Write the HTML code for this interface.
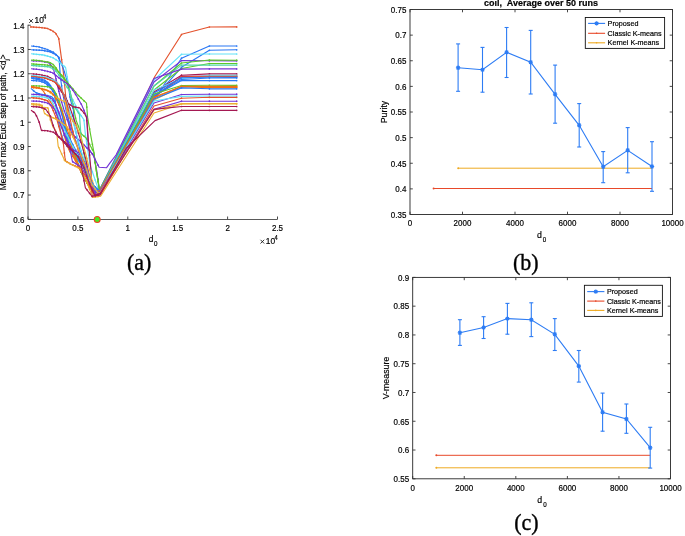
<!DOCTYPE html>
<html><head><meta charset="utf-8"><style>html,body{margin:0;padding:0;background:#fff;width:685px;height:536px;overflow:hidden}svg{display:block;will-change:transform}</style></head><body><svg width="685" height="536" viewBox="0 0 685 536"><rect x="410" y="9.5" width="262.5" height="205.0" fill="none" stroke="#262626" stroke-width="0.9"/><line x1="410" y1="214.5" x2="412.8" y2="214.5" stroke="#333" stroke-width="0.9"/><line x1="672.5" y1="214.5" x2="669.7" y2="214.5" stroke="#333" stroke-width="0.9"/><text transform="translate(406.4 217.8) scale(1 1.08)" font-size="8" text-anchor="end" font-weight="normal" font-family="'Liberation Sans', sans-serif" fill="#000" stroke="#000" stroke-width="0.18" >0.35</text><line x1="410" y1="188.875" x2="412.8" y2="188.875" stroke="#333" stroke-width="0.9"/><line x1="672.5" y1="188.875" x2="669.7" y2="188.875" stroke="#333" stroke-width="0.9"/><text transform="translate(406.4 192.175) scale(1 1.08)" font-size="8" text-anchor="end" font-weight="normal" font-family="'Liberation Sans', sans-serif" fill="#000" stroke="#000" stroke-width="0.18" >0.4</text><line x1="410" y1="163.25" x2="412.8" y2="163.25" stroke="#333" stroke-width="0.9"/><line x1="672.5" y1="163.25" x2="669.7" y2="163.25" stroke="#333" stroke-width="0.9"/><text transform="translate(406.4 166.55) scale(1 1.08)" font-size="8" text-anchor="end" font-weight="normal" font-family="'Liberation Sans', sans-serif" fill="#000" stroke="#000" stroke-width="0.18" >0.45</text><line x1="410" y1="137.625" x2="412.8" y2="137.625" stroke="#333" stroke-width="0.9"/><line x1="672.5" y1="137.625" x2="669.7" y2="137.625" stroke="#333" stroke-width="0.9"/><text transform="translate(406.4 140.925) scale(1 1.08)" font-size="8" text-anchor="end" font-weight="normal" font-family="'Liberation Sans', sans-serif" fill="#000" stroke="#000" stroke-width="0.18" >0.5</text><line x1="410" y1="112.0" x2="412.8" y2="112.0" stroke="#333" stroke-width="0.9"/><line x1="672.5" y1="112.0" x2="669.7" y2="112.0" stroke="#333" stroke-width="0.9"/><text transform="translate(406.4 115.3) scale(1 1.08)" font-size="8" text-anchor="end" font-weight="normal" font-family="'Liberation Sans', sans-serif" fill="#000" stroke="#000" stroke-width="0.18" >0.55</text><line x1="410" y1="86.375" x2="412.8" y2="86.375" stroke="#333" stroke-width="0.9"/><line x1="672.5" y1="86.375" x2="669.7" y2="86.375" stroke="#333" stroke-width="0.9"/><text transform="translate(406.4 89.675) scale(1 1.08)" font-size="8" text-anchor="end" font-weight="normal" font-family="'Liberation Sans', sans-serif" fill="#000" stroke="#000" stroke-width="0.18" >0.6</text><line x1="410" y1="60.75" x2="412.8" y2="60.75" stroke="#333" stroke-width="0.9"/><line x1="672.5" y1="60.75" x2="669.7" y2="60.75" stroke="#333" stroke-width="0.9"/><text transform="translate(406.4 64.05) scale(1 1.08)" font-size="8" text-anchor="end" font-weight="normal" font-family="'Liberation Sans', sans-serif" fill="#000" stroke="#000" stroke-width="0.18" >0.65</text><line x1="410" y1="35.125" x2="412.8" y2="35.125" stroke="#333" stroke-width="0.9"/><line x1="672.5" y1="35.125" x2="669.7" y2="35.125" stroke="#333" stroke-width="0.9"/><text transform="translate(406.4 38.425) scale(1 1.08)" font-size="8" text-anchor="end" font-weight="normal" font-family="'Liberation Sans', sans-serif" fill="#000" stroke="#000" stroke-width="0.18" >0.7</text><line x1="410" y1="9.5" x2="412.8" y2="9.5" stroke="#333" stroke-width="0.9"/><line x1="672.5" y1="9.5" x2="669.7" y2="9.5" stroke="#333" stroke-width="0.9"/><text transform="translate(406.4 12.8) scale(1 1.08)" font-size="8" text-anchor="end" font-weight="normal" font-family="'Liberation Sans', sans-serif" fill="#000" stroke="#000" stroke-width="0.18" >0.75</text><line x1="410.0" y1="214.5" x2="410.0" y2="211.7" stroke="#333" stroke-width="0.9"/><line x1="410.0" y1="9.5" x2="410.0" y2="12.3" stroke="#333" stroke-width="0.9"/><text transform="translate(410.0 226.4) scale(1 1.08)" font-size="8" text-anchor="middle" font-weight="normal" font-family="'Liberation Sans', sans-serif" fill="#000" stroke="#000" stroke-width="0.18" >0</text><line x1="462.5" y1="214.5" x2="462.5" y2="211.7" stroke="#333" stroke-width="0.9"/><line x1="462.5" y1="9.5" x2="462.5" y2="12.3" stroke="#333" stroke-width="0.9"/><text transform="translate(462.5 226.4) scale(1 1.08)" font-size="8" text-anchor="middle" font-weight="normal" font-family="'Liberation Sans', sans-serif" fill="#000" stroke="#000" stroke-width="0.18" >2000</text><line x1="515.0" y1="214.5" x2="515.0" y2="211.7" stroke="#333" stroke-width="0.9"/><line x1="515.0" y1="9.5" x2="515.0" y2="12.3" stroke="#333" stroke-width="0.9"/><text transform="translate(515.0 226.4) scale(1 1.08)" font-size="8" text-anchor="middle" font-weight="normal" font-family="'Liberation Sans', sans-serif" fill="#000" stroke="#000" stroke-width="0.18" >4000</text><line x1="567.5" y1="214.5" x2="567.5" y2="211.7" stroke="#333" stroke-width="0.9"/><line x1="567.5" y1="9.5" x2="567.5" y2="12.3" stroke="#333" stroke-width="0.9"/><text transform="translate(567.5 226.4) scale(1 1.08)" font-size="8" text-anchor="middle" font-weight="normal" font-family="'Liberation Sans', sans-serif" fill="#000" stroke="#000" stroke-width="0.18" >6000</text><line x1="620.0" y1="214.5" x2="620.0" y2="211.7" stroke="#333" stroke-width="0.9"/><line x1="620.0" y1="9.5" x2="620.0" y2="12.3" stroke="#333" stroke-width="0.9"/><text transform="translate(620.0 226.4) scale(1 1.08)" font-size="8" text-anchor="middle" font-weight="normal" font-family="'Liberation Sans', sans-serif" fill="#000" stroke="#000" stroke-width="0.18" >8000</text><line x1="672.5" y1="214.5" x2="672.5" y2="211.7" stroke="#333" stroke-width="0.9"/><line x1="672.5" y1="9.5" x2="672.5" y2="12.3" stroke="#333" stroke-width="0.9"/><text transform="translate(672.5 226.4) scale(1 1.08)" font-size="8" text-anchor="middle" font-weight="normal" font-family="'Liberation Sans', sans-serif" fill="#000" stroke="#000" stroke-width="0.18" >10000</text><line x1="433.6" y1="188.5" x2="652" y2="188.5" stroke="#e8492a" stroke-width="1"/><line x1="458.2" y1="168.2" x2="652" y2="168.2" stroke="#eeaa22" stroke-width="1"/><circle cx="433.6" cy="188.5" r="1" fill="#e8492a"/><circle cx="458.2" cy="168.2" r="1" fill="#eeaa22"/><line x1="458.1" y1="43.9" x2="458.1" y2="91.3" stroke="#2d7cf4" stroke-width="1.1"/><line x1="456.1" y1="43.9" x2="460.1" y2="43.9" stroke="#2d7cf4" stroke-width="1.1"/><line x1="456.1" y1="91.3" x2="460.1" y2="91.3" stroke="#2d7cf4" stroke-width="1.1"/><line x1="482.5" y1="47.4" x2="482.5" y2="92.2" stroke="#2d7cf4" stroke-width="1.1"/><line x1="480.5" y1="47.4" x2="484.5" y2="47.4" stroke="#2d7cf4" stroke-width="1.1"/><line x1="480.5" y1="92.2" x2="484.5" y2="92.2" stroke="#2d7cf4" stroke-width="1.1"/><line x1="506.6" y1="27.5" x2="506.6" y2="77.5" stroke="#2d7cf4" stroke-width="1.1"/><line x1="504.6" y1="27.5" x2="508.6" y2="27.5" stroke="#2d7cf4" stroke-width="1.1"/><line x1="504.6" y1="77.5" x2="508.6" y2="77.5" stroke="#2d7cf4" stroke-width="1.1"/><line x1="530.7" y1="30.4" x2="530.7" y2="94" stroke="#2d7cf4" stroke-width="1.1"/><line x1="528.7" y1="30.4" x2="532.7" y2="30.4" stroke="#2d7cf4" stroke-width="1.1"/><line x1="528.7" y1="94" x2="532.7" y2="94" stroke="#2d7cf4" stroke-width="1.1"/><line x1="555.1" y1="65.1" x2="555.1" y2="123.2" stroke="#2d7cf4" stroke-width="1.1"/><line x1="553.1" y1="65.1" x2="557.1" y2="65.1" stroke="#2d7cf4" stroke-width="1.1"/><line x1="553.1" y1="123.2" x2="557.1" y2="123.2" stroke="#2d7cf4" stroke-width="1.1"/><line x1="579.2" y1="103.6" x2="579.2" y2="147" stroke="#2d7cf4" stroke-width="1.1"/><line x1="577.2" y1="103.6" x2="581.2" y2="103.6" stroke="#2d7cf4" stroke-width="1.1"/><line x1="577.2" y1="147" x2="581.2" y2="147" stroke="#2d7cf4" stroke-width="1.1"/><line x1="603.2" y1="151.6" x2="603.2" y2="182.7" stroke="#2d7cf4" stroke-width="1.1"/><line x1="601.2" y1="151.6" x2="605.2" y2="151.6" stroke="#2d7cf4" stroke-width="1.1"/><line x1="601.2" y1="182.7" x2="605.2" y2="182.7" stroke="#2d7cf4" stroke-width="1.1"/><line x1="627.7" y1="127.6" x2="627.7" y2="172.8" stroke="#2d7cf4" stroke-width="1.1"/><line x1="625.7" y1="127.6" x2="629.7" y2="127.6" stroke="#2d7cf4" stroke-width="1.1"/><line x1="625.7" y1="172.8" x2="629.7" y2="172.8" stroke="#2d7cf4" stroke-width="1.1"/><line x1="652" y1="141.7" x2="652" y2="191.3" stroke="#2d7cf4" stroke-width="1.1"/><line x1="650" y1="141.7" x2="654" y2="141.7" stroke="#2d7cf4" stroke-width="1.1"/><line x1="650" y1="191.3" x2="654" y2="191.3" stroke="#2d7cf4" stroke-width="1.1"/><polyline fill="none" stroke="#2d7cf4" stroke-width="1.1" points="458.1,67.8 482.5,69.8 506.6,52.3 530.7,62.2 555.1,94.3 579.2,125.3 603.2,166.8 627.7,150.3 652,166.5"/><path d="M455.90000000000003,67.8H460.3M458.1,65.6V70.0M456.516,66.216L459.684,69.384M456.516,69.384L459.684,66.216" stroke="#2d7cf4" stroke-width="1.1" fill="none"/><path d="M480.3,69.8H484.7M482.5,67.6V72.0M480.916,68.216L484.084,71.384M480.916,71.384L484.084,68.216" stroke="#2d7cf4" stroke-width="1.1" fill="none"/><path d="M504.40000000000003,52.3H508.8M506.6,50.099999999999994V54.5M505.016,50.715999999999994L508.184,53.884M505.016,53.884L508.184,50.715999999999994" stroke="#2d7cf4" stroke-width="1.1" fill="none"/><path d="M528.5,62.2H532.9000000000001M530.7,60.0V64.4M529.1160000000001,60.616L532.284,63.784000000000006M529.1160000000001,63.784000000000006L532.284,60.616" stroke="#2d7cf4" stroke-width="1.1" fill="none"/><path d="M552.9,94.3H557.3000000000001M555.1,92.1V96.5M553.5160000000001,92.716L556.684,95.884M553.5160000000001,95.884L556.684,92.716" stroke="#2d7cf4" stroke-width="1.1" fill="none"/><path d="M577.0,125.3H581.4000000000001M579.2,123.1V127.5M577.6160000000001,123.716L580.784,126.884M577.6160000000001,126.884L580.784,123.716" stroke="#2d7cf4" stroke-width="1.1" fill="none"/><path d="M601.0,166.8H605.4000000000001M603.2,164.60000000000002V169.0M601.6160000000001,165.216L604.784,168.38400000000001M601.6160000000001,168.38400000000001L604.784,165.216" stroke="#2d7cf4" stroke-width="1.1" fill="none"/><path d="M625.5,150.3H629.9000000000001M627.7,148.10000000000002V152.5M626.1160000000001,148.716L629.284,151.88400000000001M626.1160000000001,151.88400000000001L629.284,148.716" stroke="#2d7cf4" stroke-width="1.1" fill="none"/><path d="M649.8,166.5H654.2M652,164.3V168.7M650.416,164.916L653.584,168.084M650.416,168.084L653.584,164.916" stroke="#2d7cf4" stroke-width="1.1" fill="none"/><rect x="585.3" y="17.5" width="79.30000000000007" height="30.9" fill="#fff" stroke="#111" stroke-width="0.9"/><line x1="588.0999999999999" y1="23.4" x2="605.1" y2="23.4" stroke="#2d7cf4" stroke-width="1.1"/><path d="M594.3999999999999,23.4H598.8M596.5999999999999,21.2V25.599999999999998M595.016,21.816L598.1839999999999,24.983999999999998M595.016,24.983999999999998L598.1839999999999,21.816" stroke="#2d7cf4" stroke-width="1.1" fill="none"/><text transform="translate(607.6 26.0) scale(1 1.08)" font-size="7.2" text-anchor="start" font-weight="normal" font-family="'Liberation Sans', sans-serif" fill="#000" stroke="#000" stroke-width="0.18" >Proposed</text><line x1="588.0999999999999" y1="33.3" x2="605.1" y2="33.3" stroke="#e8492a" stroke-width="1.1"/><circle cx="596.5999999999999" cy="33.3" r="0.8" fill="#e8492a"/><text transform="translate(607.6 35.9) scale(1 1.08)" font-size="7.2" text-anchor="start" font-weight="normal" font-family="'Liberation Sans', sans-serif" fill="#000" stroke="#000" stroke-width="0.18" >Classic K-means</text><line x1="588.0999999999999" y1="42.8" x2="605.1" y2="42.8" stroke="#eeaa22" stroke-width="1.1"/><circle cx="596.5999999999999" cy="42.8" r="0.8" fill="#eeaa22"/><text transform="translate(607.6 45.4) scale(1 1.08)" font-size="7.2" text-anchor="start" font-weight="normal" font-family="'Liberation Sans', sans-serif" fill="#000" stroke="#000" stroke-width="0.18" >Kernel K-means</text><text transform="translate(387 112) rotate(-90)" font-size="8.8" text-anchor="middle" font-weight="normal" font-family="'Liberation Sans', sans-serif" fill="#000" stroke="#000" stroke-width="0.18" >Purity</text><text transform="translate(539.4 238.1) scale(1 1.08)" font-size="8.8" text-anchor="middle" font-weight="normal" font-family="'Liberation Sans', sans-serif" fill="#000" stroke="#000" stroke-width="0.18" >d</text><text transform="translate(544.5 242.1) scale(1 1.08)" font-size="6.2" text-anchor="middle" font-weight="normal" font-family="'Liberation Sans', sans-serif" fill="#000" stroke="#000" stroke-width="0.18" >0</text><text transform="translate(525.8 270.1) scale(1 1.08)" font-size="22" text-anchor="middle" font-weight="normal" font-family="'Liberation Serif', serif" fill="#000" stroke="#000" stroke-width="0.35" >(b)</text><text transform="translate(541 6.0) scale(1 1.08)" font-size="9" text-anchor="middle" font-weight="bold" font-family="'Liberation Sans', sans-serif" fill="#000" stroke="#000" stroke-width="0.18" >coil,&#160; Average over 50 runs</text><rect x="412.7" y="277.4" width="257.8" height="201.40000000000003" fill="none" stroke="#262626" stroke-width="0.9"/><line x1="412.7" y1="478.8" x2="415.5" y2="478.8" stroke="#333" stroke-width="0.9"/><line x1="670.5" y1="478.8" x2="667.7" y2="478.8" stroke="#333" stroke-width="0.9"/><text transform="translate(409.09999999999997 482.1) scale(1 1.08)" font-size="8" text-anchor="end" font-weight="normal" font-family="'Liberation Sans', sans-serif" fill="#000" stroke="#000" stroke-width="0.18" >0.55</text><line x1="412.7" y1="450.0285714285714" x2="415.5" y2="450.0285714285714" stroke="#333" stroke-width="0.9"/><line x1="670.5" y1="450.0285714285714" x2="667.7" y2="450.0285714285714" stroke="#333" stroke-width="0.9"/><text transform="translate(409.09999999999997 453.3285714285714) scale(1 1.08)" font-size="8" text-anchor="end" font-weight="normal" font-family="'Liberation Sans', sans-serif" fill="#000" stroke="#000" stroke-width="0.18" >0.6</text><line x1="412.7" y1="421.25714285714287" x2="415.5" y2="421.25714285714287" stroke="#333" stroke-width="0.9"/><line x1="670.5" y1="421.25714285714287" x2="667.7" y2="421.25714285714287" stroke="#333" stroke-width="0.9"/><text transform="translate(409.09999999999997 424.5571428571429) scale(1 1.08)" font-size="8" text-anchor="end" font-weight="normal" font-family="'Liberation Sans', sans-serif" fill="#000" stroke="#000" stroke-width="0.18" >0.65</text><line x1="412.7" y1="392.48571428571427" x2="415.5" y2="392.48571428571427" stroke="#333" stroke-width="0.9"/><line x1="670.5" y1="392.48571428571427" x2="667.7" y2="392.48571428571427" stroke="#333" stroke-width="0.9"/><text transform="translate(409.09999999999997 395.7857142857143) scale(1 1.08)" font-size="8" text-anchor="end" font-weight="normal" font-family="'Liberation Sans', sans-serif" fill="#000" stroke="#000" stroke-width="0.18" >0.7</text><line x1="412.7" y1="363.7142857142857" x2="415.5" y2="363.7142857142857" stroke="#333" stroke-width="0.9"/><line x1="670.5" y1="363.7142857142857" x2="667.7" y2="363.7142857142857" stroke="#333" stroke-width="0.9"/><text transform="translate(409.09999999999997 367.01428571428573) scale(1 1.08)" font-size="8" text-anchor="end" font-weight="normal" font-family="'Liberation Sans', sans-serif" fill="#000" stroke="#000" stroke-width="0.18" >0.75</text><line x1="412.7" y1="334.9428571428571" x2="415.5" y2="334.9428571428571" stroke="#333" stroke-width="0.9"/><line x1="670.5" y1="334.9428571428571" x2="667.7" y2="334.9428571428571" stroke="#333" stroke-width="0.9"/><text transform="translate(409.09999999999997 338.24285714285713) scale(1 1.08)" font-size="8" text-anchor="end" font-weight="normal" font-family="'Liberation Sans', sans-serif" fill="#000" stroke="#000" stroke-width="0.18" >0.8</text><line x1="412.7" y1="306.1714285714286" x2="415.5" y2="306.1714285714286" stroke="#333" stroke-width="0.9"/><line x1="670.5" y1="306.1714285714286" x2="667.7" y2="306.1714285714286" stroke="#333" stroke-width="0.9"/><text transform="translate(409.09999999999997 309.4714285714286) scale(1 1.08)" font-size="8" text-anchor="end" font-weight="normal" font-family="'Liberation Sans', sans-serif" fill="#000" stroke="#000" stroke-width="0.18" >0.85</text><line x1="412.7" y1="277.4" x2="415.5" y2="277.4" stroke="#333" stroke-width="0.9"/><line x1="670.5" y1="277.4" x2="667.7" y2="277.4" stroke="#333" stroke-width="0.9"/><text transform="translate(409.09999999999997 280.7) scale(1 1.08)" font-size="8" text-anchor="end" font-weight="normal" font-family="'Liberation Sans', sans-serif" fill="#000" stroke="#000" stroke-width="0.18" >0.9</text><line x1="412.7" y1="478.8" x2="412.7" y2="476.0" stroke="#333" stroke-width="0.9"/><line x1="412.7" y1="277.4" x2="412.7" y2="280.2" stroke="#333" stroke-width="0.9"/><text transform="translate(412.7 490.7) scale(1 1.08)" font-size="8" text-anchor="middle" font-weight="normal" font-family="'Liberation Sans', sans-serif" fill="#000" stroke="#000" stroke-width="0.18" >0</text><line x1="464.26" y1="478.8" x2="464.26" y2="476.0" stroke="#333" stroke-width="0.9"/><line x1="464.26" y1="277.4" x2="464.26" y2="280.2" stroke="#333" stroke-width="0.9"/><text transform="translate(464.26 490.7) scale(1 1.08)" font-size="8" text-anchor="middle" font-weight="normal" font-family="'Liberation Sans', sans-serif" fill="#000" stroke="#000" stroke-width="0.18" >2000</text><line x1="515.8199999999999" y1="478.8" x2="515.8199999999999" y2="476.0" stroke="#333" stroke-width="0.9"/><line x1="515.8199999999999" y1="277.4" x2="515.8199999999999" y2="280.2" stroke="#333" stroke-width="0.9"/><text transform="translate(515.8199999999999 490.7) scale(1 1.08)" font-size="8" text-anchor="middle" font-weight="normal" font-family="'Liberation Sans', sans-serif" fill="#000" stroke="#000" stroke-width="0.18" >4000</text><line x1="567.38" y1="478.8" x2="567.38" y2="476.0" stroke="#333" stroke-width="0.9"/><line x1="567.38" y1="277.4" x2="567.38" y2="280.2" stroke="#333" stroke-width="0.9"/><text transform="translate(567.38 490.7) scale(1 1.08)" font-size="8" text-anchor="middle" font-weight="normal" font-family="'Liberation Sans', sans-serif" fill="#000" stroke="#000" stroke-width="0.18" >6000</text><line x1="618.94" y1="478.8" x2="618.94" y2="476.0" stroke="#333" stroke-width="0.9"/><line x1="618.94" y1="277.4" x2="618.94" y2="280.2" stroke="#333" stroke-width="0.9"/><text transform="translate(618.94 490.7) scale(1 1.08)" font-size="8" text-anchor="middle" font-weight="normal" font-family="'Liberation Sans', sans-serif" fill="#000" stroke="#000" stroke-width="0.18" >8000</text><line x1="670.5" y1="478.8" x2="670.5" y2="476.0" stroke="#333" stroke-width="0.9"/><line x1="670.5" y1="277.4" x2="670.5" y2="280.2" stroke="#333" stroke-width="0.9"/><text transform="translate(670.5 490.7) scale(1 1.08)" font-size="8" text-anchor="middle" font-weight="normal" font-family="'Liberation Sans', sans-serif" fill="#000" stroke="#000" stroke-width="0.18" >10000</text><line x1="436.3" y1="455.3" x2="650.2" y2="455.3" stroke="#e8492a" stroke-width="1"/><line x1="436.3" y1="467.8" x2="650.2" y2="467.8" stroke="#eeaa22" stroke-width="1"/><circle cx="436.3" cy="455.3" r="1" fill="#e8492a"/><circle cx="436.3" cy="467.8" r="1" fill="#eeaa22"/><line x1="459.9" y1="319.7" x2="459.9" y2="345.4" stroke="#2d7cf4" stroke-width="1.1"/><line x1="457.9" y1="319.7" x2="461.9" y2="319.7" stroke="#2d7cf4" stroke-width="1.1"/><line x1="457.9" y1="345.4" x2="461.9" y2="345.4" stroke="#2d7cf4" stroke-width="1.1"/><line x1="483.6" y1="316.7" x2="483.6" y2="338.5" stroke="#2d7cf4" stroke-width="1.1"/><line x1="481.6" y1="316.7" x2="485.6" y2="316.7" stroke="#2d7cf4" stroke-width="1.1"/><line x1="481.6" y1="338.5" x2="485.6" y2="338.5" stroke="#2d7cf4" stroke-width="1.1"/><line x1="507.4" y1="303.4" x2="507.4" y2="334.2" stroke="#2d7cf4" stroke-width="1.1"/><line x1="505.4" y1="303.4" x2="509.4" y2="303.4" stroke="#2d7cf4" stroke-width="1.1"/><line x1="505.4" y1="334.2" x2="509.4" y2="334.2" stroke="#2d7cf4" stroke-width="1.1"/><line x1="531.3" y1="302.8" x2="531.3" y2="336.6" stroke="#2d7cf4" stroke-width="1.1"/><line x1="529.3" y1="302.8" x2="533.3" y2="302.8" stroke="#2d7cf4" stroke-width="1.1"/><line x1="529.3" y1="336.6" x2="533.3" y2="336.6" stroke="#2d7cf4" stroke-width="1.1"/><line x1="554.8" y1="318.6" x2="554.8" y2="350.5" stroke="#2d7cf4" stroke-width="1.1"/><line x1="552.8" y1="318.6" x2="556.8" y2="318.6" stroke="#2d7cf4" stroke-width="1.1"/><line x1="552.8" y1="350.5" x2="556.8" y2="350.5" stroke="#2d7cf4" stroke-width="1.1"/><line x1="578.8" y1="350.5" x2="578.8" y2="382.1" stroke="#2d7cf4" stroke-width="1.1"/><line x1="576.8" y1="350.5" x2="580.8" y2="350.5" stroke="#2d7cf4" stroke-width="1.1"/><line x1="576.8" y1="382.1" x2="580.8" y2="382.1" stroke="#2d7cf4" stroke-width="1.1"/><line x1="602.6" y1="393.1" x2="602.6" y2="431.2" stroke="#2d7cf4" stroke-width="1.1"/><line x1="600.6" y1="393.1" x2="604.6" y2="393.1" stroke="#2d7cf4" stroke-width="1.1"/><line x1="600.6" y1="431.2" x2="604.6" y2="431.2" stroke="#2d7cf4" stroke-width="1.1"/><line x1="626.4" y1="404" x2="626.4" y2="433.3" stroke="#2d7cf4" stroke-width="1.1"/><line x1="624.4" y1="404" x2="628.4" y2="404" stroke="#2d7cf4" stroke-width="1.1"/><line x1="624.4" y1="433.3" x2="628.4" y2="433.3" stroke="#2d7cf4" stroke-width="1.1"/><line x1="650.2" y1="427.3" x2="650.2" y2="468.1" stroke="#2d7cf4" stroke-width="1.1"/><line x1="648.2" y1="427.3" x2="652.2" y2="427.3" stroke="#2d7cf4" stroke-width="1.1"/><line x1="648.2" y1="468.1" x2="652.2" y2="468.1" stroke="#2d7cf4" stroke-width="1.1"/><polyline fill="none" stroke="#2d7cf4" stroke-width="1.1" points="459.9,332.8 483.6,327.5 507.4,318.6 531.3,319.7 554.8,334.3 578.8,366.1 602.6,412.2 626.4,419 650.2,447.7"/><path d="M457.7,332.8H462.09999999999997M459.9,330.6V335.0M458.316,331.216L461.484,334.384M458.316,334.384L461.484,331.216" stroke="#2d7cf4" stroke-width="1.1" fill="none"/><path d="M481.40000000000003,327.5H485.8M483.6,325.3V329.7M482.016,325.916L485.184,329.084M482.016,329.084L485.184,325.916" stroke="#2d7cf4" stroke-width="1.1" fill="none"/><path d="M505.2,318.6H509.59999999999997M507.4,316.40000000000003V320.8M505.816,317.016L508.984,320.184M505.816,320.184L508.984,317.016" stroke="#2d7cf4" stroke-width="1.1" fill="none"/><path d="M529.0999999999999,319.7H533.5M531.3,317.5V321.9M529.716,318.116L532.8839999999999,321.284M529.716,321.284L532.8839999999999,318.116" stroke="#2d7cf4" stroke-width="1.1" fill="none"/><path d="M552.5999999999999,334.3H557.0M554.8,332.1V336.5M553.216,332.716L556.3839999999999,335.884M553.216,335.884L556.3839999999999,332.716" stroke="#2d7cf4" stroke-width="1.1" fill="none"/><path d="M576.5999999999999,366.1H581.0M578.8,363.90000000000003V368.3M577.216,364.516L580.3839999999999,367.684M577.216,367.684L580.3839999999999,364.516" stroke="#2d7cf4" stroke-width="1.1" fill="none"/><path d="M600.4,412.2H604.8000000000001M602.6,410.0V414.4M601.0160000000001,410.616L604.184,413.784M601.0160000000001,413.784L604.184,410.616" stroke="#2d7cf4" stroke-width="1.1" fill="none"/><path d="M624.1999999999999,419H628.6M626.4,416.8V421.2M624.816,417.416L627.9839999999999,420.584M624.816,420.584L627.9839999999999,417.416" stroke="#2d7cf4" stroke-width="1.1" fill="none"/><path d="M648.0,447.7H652.4000000000001M650.2,445.5V449.9M648.6160000000001,446.116L651.784,449.284M648.6160000000001,449.284L651.784,446.116" stroke="#2d7cf4" stroke-width="1.1" fill="none"/><rect x="584.4" y="285.3" width="78.0" height="31.099999999999966" fill="#fff" stroke="#111" stroke-width="0.9"/><line x1="587.1999999999999" y1="291.6" x2="604.4" y2="291.6" stroke="#2d7cf4" stroke-width="1.1"/><path d="M593.5999999999999,291.6H598.0M595.8,289.40000000000003V293.8M594.216,290.016L597.3839999999999,293.184M594.216,293.184L597.3839999999999,290.016" stroke="#2d7cf4" stroke-width="1.1" fill="none"/><text transform="translate(606.9 294.20000000000005) scale(1 1.08)" font-size="7.2" text-anchor="start" font-weight="normal" font-family="'Liberation Sans', sans-serif" fill="#000" stroke="#000" stroke-width="0.18" >Proposed</text><line x1="587.1999999999999" y1="301.1" x2="604.4" y2="301.1" stroke="#e8492a" stroke-width="1.1"/><circle cx="595.8" cy="301.1" r="0.8" fill="#e8492a"/><text transform="translate(606.9 303.70000000000005) scale(1 1.08)" font-size="7.2" text-anchor="start" font-weight="normal" font-family="'Liberation Sans', sans-serif" fill="#000" stroke="#000" stroke-width="0.18" >Classic K-means</text><line x1="587.1999999999999" y1="310.4" x2="604.4" y2="310.4" stroke="#eeaa22" stroke-width="1.1"/><circle cx="595.8" cy="310.4" r="0.8" fill="#eeaa22"/><text transform="translate(606.9 313.0) scale(1 1.08)" font-size="7.2" text-anchor="start" font-weight="normal" font-family="'Liberation Sans', sans-serif" fill="#000" stroke="#000" stroke-width="0.18" >Kernel K-means</text><text transform="translate(389 378) rotate(-90)" font-size="8.8" text-anchor="middle" font-weight="normal" font-family="'Liberation Sans', sans-serif" fill="#000" stroke="#000" stroke-width="0.18" >V-measure</text><text transform="translate(539.8 502.9) scale(1 1.08)" font-size="8.8" text-anchor="middle" font-weight="normal" font-family="'Liberation Sans', sans-serif" fill="#000" stroke="#000" stroke-width="0.18" >d</text><text transform="translate(544.9 506.9) scale(1 1.08)" font-size="6.2" text-anchor="middle" font-weight="normal" font-family="'Liberation Sans', sans-serif" fill="#000" stroke="#000" stroke-width="0.18" >0</text><text transform="translate(526.4 529.6) scale(1 1.08)" font-size="22" text-anchor="middle" font-weight="normal" font-family="'Liberation Serif', serif" fill="#000" stroke="#000" stroke-width="0.35" >(c)</text><line x1="28" y1="24.720000000000027" x2="28" y2="219.5" stroke="#5a5a5a" stroke-width="1"/><line x1="28" y1="219.5" x2="277.5" y2="219.5" stroke="#5a5a5a" stroke-width="1"/><line x1="28.0" y1="219.3" x2="28.0" y2="216.5" stroke="#333" stroke-width="0.9"/><text transform="translate(28.0 231.0) scale(1 1.08)" font-size="8" text-anchor="middle" font-weight="normal" font-family="'Liberation Sans', sans-serif" fill="#000" stroke="#000" stroke-width="0.18" >0</text><line x1="77.9" y1="219.3" x2="77.9" y2="216.5" stroke="#333" stroke-width="0.9"/><text transform="translate(77.9 231.0) scale(1 1.08)" font-size="8" text-anchor="middle" font-weight="normal" font-family="'Liberation Sans', sans-serif" fill="#000" stroke="#000" stroke-width="0.18" >0.5</text><line x1="127.8" y1="219.3" x2="127.8" y2="216.5" stroke="#333" stroke-width="0.9"/><text transform="translate(127.8 231.0) scale(1 1.08)" font-size="8" text-anchor="middle" font-weight="normal" font-family="'Liberation Sans', sans-serif" fill="#000" stroke="#000" stroke-width="0.18" >1</text><line x1="177.7" y1="219.3" x2="177.7" y2="216.5" stroke="#333" stroke-width="0.9"/><text transform="translate(177.7 231.0) scale(1 1.08)" font-size="8" text-anchor="middle" font-weight="normal" font-family="'Liberation Sans', sans-serif" fill="#000" stroke="#000" stroke-width="0.18" >1.5</text><line x1="227.6" y1="219.3" x2="227.6" y2="216.5" stroke="#333" stroke-width="0.9"/><text transform="translate(227.6 231.0) scale(1 1.08)" font-size="8" text-anchor="middle" font-weight="normal" font-family="'Liberation Sans', sans-serif" fill="#000" stroke="#000" stroke-width="0.18" >2</text><line x1="277.5" y1="219.3" x2="277.5" y2="216.5" stroke="#333" stroke-width="0.9"/><text transform="translate(277.5 231.0) scale(1 1.08)" font-size="8" text-anchor="middle" font-weight="normal" font-family="'Liberation Sans', sans-serif" fill="#000" stroke="#000" stroke-width="0.18" >2.5</text><line x1="28" y1="219.3" x2="30.8" y2="219.3" stroke="#333" stroke-width="0.9"/><text transform="translate(24.4 222.60000000000002) scale(1 1.08)" font-size="8" text-anchor="end" font-weight="normal" font-family="'Liberation Sans', sans-serif" fill="#000" stroke="#000" stroke-width="0.18" >0.6</text><line x1="28" y1="195.04000000000002" x2="30.8" y2="195.04000000000002" stroke="#333" stroke-width="0.9"/><text transform="translate(24.4 198.34000000000003) scale(1 1.08)" font-size="8" text-anchor="end" font-weight="normal" font-family="'Liberation Sans', sans-serif" fill="#000" stroke="#000" stroke-width="0.18" >0.7</text><line x1="28" y1="170.78" x2="30.8" y2="170.78" stroke="#333" stroke-width="0.9"/><text transform="translate(24.4 174.08) scale(1 1.08)" font-size="8" text-anchor="end" font-weight="normal" font-family="'Liberation Sans', sans-serif" fill="#000" stroke="#000" stroke-width="0.18" >0.8</text><line x1="28" y1="146.51999999999998" x2="30.8" y2="146.51999999999998" stroke="#333" stroke-width="0.9"/><text transform="translate(24.4 149.82) scale(1 1.08)" font-size="8" text-anchor="end" font-weight="normal" font-family="'Liberation Sans', sans-serif" fill="#000" stroke="#000" stroke-width="0.18" >0.9</text><line x1="28" y1="122.26" x2="30.8" y2="122.26" stroke="#333" stroke-width="0.9"/><text transform="translate(24.4 125.56) scale(1 1.08)" font-size="8" text-anchor="end" font-weight="normal" font-family="'Liberation Sans', sans-serif" fill="#000" stroke="#000" stroke-width="0.18" >1</text><line x1="28" y1="97.99999999999999" x2="30.8" y2="97.99999999999999" stroke="#333" stroke-width="0.9"/><text transform="translate(24.4 101.29999999999998) scale(1 1.08)" font-size="8" text-anchor="end" font-weight="normal" font-family="'Liberation Sans', sans-serif" fill="#000" stroke="#000" stroke-width="0.18" >1.1</text><line x1="28" y1="73.73999999999995" x2="30.8" y2="73.73999999999995" stroke="#333" stroke-width="0.9"/><text transform="translate(24.4 77.03999999999995) scale(1 1.08)" font-size="8" text-anchor="end" font-weight="normal" font-family="'Liberation Sans', sans-serif" fill="#000" stroke="#000" stroke-width="0.18" >1.2</text><line x1="28" y1="49.47999999999999" x2="30.8" y2="49.47999999999999" stroke="#333" stroke-width="0.9"/><text transform="translate(24.4 52.77999999999999) scale(1 1.08)" font-size="8" text-anchor="end" font-weight="normal" font-family="'Liberation Sans', sans-serif" fill="#000" stroke="#000" stroke-width="0.18" >1.3</text><line x1="28" y1="25.220000000000027" x2="30.8" y2="25.220000000000027" stroke="#333" stroke-width="0.9"/><text transform="translate(24.4 28.520000000000028) scale(1 1.08)" font-size="8" text-anchor="end" font-weight="normal" font-family="'Liberation Sans', sans-serif" fill="#000" stroke="#000" stroke-width="0.18" >1.4</text><path d="M29.2,19.1L32.9,22.8M29.2,22.8L32.9,19.1" stroke="#111" stroke-width="0.85" fill="none"/><text transform="translate(34.5 23.0) scale(1 1.14)" font-size="8.4" text-anchor="start" font-weight="normal" font-family="'Liberation Sans', sans-serif" fill="#000" stroke="#000" stroke-width="0.18" >10</text><text transform="translate(43.099999999999994 18.9) scale(1 1.12)" font-size="5.8" text-anchor="start" font-weight="normal" font-family="'Liberation Sans', sans-serif" fill="#000" stroke="#000" stroke-width="0.18" >4</text><path d="M260.5,239.79999999999998L264.2,243.5M260.5,243.5L264.2,239.79999999999998" stroke="#111" stroke-width="0.85" fill="none"/><text transform="translate(265.8 243.7) scale(1 1.14)" font-size="8.4" text-anchor="start" font-weight="normal" font-family="'Liberation Sans', sans-serif" fill="#000" stroke="#000" stroke-width="0.18" >10</text><text transform="translate(274.4 239.6) scale(1 1.12)" font-size="5.8" text-anchor="start" font-weight="normal" font-family="'Liberation Sans', sans-serif" fill="#000" stroke="#000" stroke-width="0.18" >4</text><text transform="translate(151.1 241.7) scale(1 1.08)" font-size="8.4" text-anchor="middle" font-weight="normal" font-family="'Liberation Sans', sans-serif" fill="#000" stroke="#000" stroke-width="0.18" >d</text><text transform="translate(155.8 246.2) scale(1 1.08)" font-size="6.2" text-anchor="middle" font-weight="normal" font-family="'Liberation Sans', sans-serif" fill="#000" stroke="#000" stroke-width="0.18" >0</text><text transform="translate(6.3 190.2) rotate(-90)" font-size="8.4" text-anchor="start" font-weight="normal" font-family="'Liberation Sans', sans-serif" fill="#000" stroke="#000" stroke-width="0.18" >Mean of max Eucl. step of path, &lt;d<tspan font-size="6" dy="2.4">j</tspan><tspan dy="-2.4">&gt;</tspan></text><text transform="translate(139.15 270.1) scale(1 1.08)" font-size="22" text-anchor="middle" font-weight="normal" font-family="'Liberation Serif', serif" fill="#000" stroke="#000" stroke-width="0.35" >(a)</text><polyline fill="none" stroke="#e4532e" stroke-width="1.15" stroke-linejoin="round" points="30.8,26.9 40.0,27.5 47.4,28.4 52.0,30.6 55.5,33.0 58.7,38.2 63.7,74.9 66.0,99.6 68.5,120.0 70.5,140.0 73.0,155.0 80.0,170.0 88.0,185.0 94.0,194.0 99.6,192.8 154.7,76.8 181.7,34.3 209.3,27.0 236.7,26.9"/><g fill="#e4532e"><circle cx="30.8" cy="26.9" r="0.85"/><circle cx="33.6" cy="27.1" r="0.85"/><circle cx="36.4" cy="27.3" r="0.85"/><circle cx="39.2" cy="27.4" r="0.85"/><circle cx="42.0" cy="27.7" r="0.85"/><circle cx="44.8" cy="28.1" r="0.85"/><circle cx="47.6" cy="28.5" r="0.85"/><circle cx="50.4" cy="29.8" r="0.85"/><circle cx="53.2" cy="31.4" r="0.85"/><circle cx="56.0" cy="33.8" r="0.85"/><circle cx="58.8" cy="38.9" r="0.85"/><circle cx="61.6" cy="59.5" r="0.85"/><circle cx="64.4" cy="82.4" r="0.85"/><circle cx="67.2" cy="109.4" r="0.85"/><circle cx="70.0" cy="135.0" r="0.85"/><circle cx="72.8" cy="153.8" r="0.85"/><circle cx="75.6" cy="160.6" r="0.85"/><circle cx="78.4" cy="166.6" r="0.85"/><circle cx="81.2" cy="172.2" r="0.85"/><circle cx="84.0" cy="177.5" r="0.85"/><circle cx="86.8" cy="182.7" r="0.85"/><circle cx="89.6" cy="187.4" r="0.85"/><circle cx="92.4" cy="191.6" r="0.85"/><circle cx="95.2" cy="193.7" r="0.85"/><circle cx="98.0" cy="193.1" r="0.85"/><circle cx="181.5" cy="34.6" r="0.85"/><circle cx="209.4" cy="27.0" r="0.85"/><circle cx="236.7" cy="26.9" r="0.85"/></g><polyline fill="none" stroke="#2a78f4" stroke-width="1.15" stroke-linejoin="round" points="31.0,46.0 38.4,46.7 46.7,49.3 53.4,52.3 57.9,56.4 60.1,60.9 63.0,67.5 66.0,77.2 68.2,84.6 70.4,99.6 73.4,109.9 74.2,124.9 80.0,150.0 88.0,175.0 97.0,193.0 100.1,191.8 154.0,100.0 181.5,58.2 209.4,46.0 236.7,46.0"/><g fill="#2a78f4"><circle cx="33.6" cy="46.2" r="0.85"/><circle cx="36.4" cy="46.5" r="0.85"/><circle cx="39.2" cy="47.0" r="0.85"/><circle cx="42.0" cy="47.8" r="0.85"/><circle cx="44.8" cy="48.7" r="0.85"/><circle cx="47.6" cy="49.7" r="0.85"/><circle cx="50.4" cy="51.0" r="0.85"/><circle cx="53.2" cy="52.2" r="0.85"/><circle cx="56.0" cy="54.7" r="0.85"/><circle cx="58.8" cy="58.2" r="0.85"/><circle cx="61.6" cy="64.3" r="0.85"/><circle cx="64.4" cy="72.0" r="0.85"/><circle cx="67.2" cy="81.2" r="0.85"/><circle cx="70.0" cy="96.9" r="0.85"/><circle cx="72.8" cy="107.8" r="0.85"/><circle cx="75.6" cy="131.0" r="0.85"/><circle cx="78.4" cy="143.1" r="0.85"/><circle cx="81.2" cy="153.7" r="0.85"/><circle cx="84.0" cy="162.5" r="0.85"/><circle cx="86.8" cy="171.2" r="0.85"/><circle cx="89.6" cy="178.2" r="0.85"/><circle cx="92.4" cy="183.8" r="0.85"/><circle cx="95.2" cy="189.4" r="0.85"/><circle cx="98.0" cy="192.6" r="0.85"/><circle cx="181.5" cy="58.2" r="0.85"/><circle cx="209.4" cy="46.0" r="0.85"/><circle cx="236.7" cy="46.0" r="0.85"/></g><polyline fill="none" stroke="#2a78f4" stroke-width="1.15" stroke-linejoin="round" points="31.0,49.7 42.9,50.4 50.4,51.9 56.4,54.9 59.3,57.9 59.5,65.0 60.5,78.0 62.5,92.0 64.5,103.0 67.0,115.0 72.0,130.0 78.0,148.0 88.0,175.0 98.0,195.0 100.6,193.8 154.0,98.0 181.5,67.3 209.4,50.3 236.7,49.8"/><g fill="#2a78f4"><circle cx="33.6" cy="49.9" r="0.85"/><circle cx="36.4" cy="50.0" r="0.85"/><circle cx="39.2" cy="50.2" r="0.85"/><circle cx="42.0" cy="50.3" r="0.85"/><circle cx="44.8" cy="50.8" r="0.85"/><circle cx="47.6" cy="51.3" r="0.85"/><circle cx="50.4" cy="51.9" r="0.85"/><circle cx="53.2" cy="53.3" r="0.85"/><circle cx="56.0" cy="54.7" r="0.85"/><circle cx="58.8" cy="57.4" r="0.85"/><circle cx="61.6" cy="85.7" r="0.85"/><circle cx="64.4" cy="102.4" r="0.85"/><circle cx="67.2" cy="115.6" r="0.85"/><circle cx="70.0" cy="124.0" r="0.85"/><circle cx="72.8" cy="132.4" r="0.85"/><circle cx="75.6" cy="140.8" r="0.85"/><circle cx="78.4" cy="149.1" r="0.85"/><circle cx="81.2" cy="156.6" r="0.85"/><circle cx="84.0" cy="164.2" r="0.85"/><circle cx="86.8" cy="171.8" r="0.85"/><circle cx="89.6" cy="178.2" r="0.85"/><circle cx="92.4" cy="183.8" r="0.85"/><circle cx="95.2" cy="189.4" r="0.85"/><circle cx="98.0" cy="195.0" r="0.85"/><circle cx="181.5" cy="67.3" r="0.85"/><circle cx="209.4" cy="50.3" r="0.85"/><circle cx="236.7" cy="49.8" r="0.85"/></g><polyline fill="none" stroke="#62e2f8" stroke-width="1.15" stroke-linejoin="round" points="31.0,53.8 42.9,54.9 52.6,57.5 57.9,60.9 62.3,64.6 65.6,67.5 67.5,78.7 69.7,89.9 71.5,97.0 74.9,104.0 78.7,112.2 83.9,119.6 85.4,134.6 90.0,165.0 99.0,191.0 154.0,80.0 181.5,54.3 209.4,54.0 236.7,54.0"/><g fill="#62e2f8"><circle cx="33.6" cy="54.0" r="0.85"/><circle cx="36.4" cy="54.3" r="0.85"/><circle cx="39.2" cy="54.6" r="0.85"/><circle cx="42.0" cy="54.8" r="0.85"/><circle cx="44.8" cy="55.4" r="0.85"/><circle cx="47.6" cy="56.2" r="0.85"/><circle cx="50.4" cy="56.9" r="0.85"/><circle cx="53.2" cy="57.9" r="0.85"/><circle cx="56.0" cy="59.7" r="0.85"/><circle cx="58.8" cy="61.7" r="0.85"/><circle cx="61.6" cy="64.0" r="0.85"/><circle cx="64.4" cy="66.4" r="0.85"/><circle cx="67.2" cy="76.9" r="0.85"/><circle cx="70.0" cy="91.1" r="0.85"/><circle cx="72.8" cy="99.7" r="0.85"/><circle cx="75.6" cy="105.5" r="0.85"/><circle cx="78.4" cy="111.6" r="0.85"/><circle cx="81.2" cy="115.8" r="0.85"/><circle cx="84.0" cy="120.6" r="0.85"/><circle cx="86.8" cy="143.9" r="0.85"/><circle cx="89.6" cy="162.4" r="0.85"/><circle cx="92.4" cy="171.9" r="0.85"/><circle cx="95.2" cy="180.0" r="0.85"/><circle cx="98.0" cy="188.1" r="0.85"/><circle cx="181.5" cy="54.3" r="0.85"/><circle cx="209.4" cy="54.0" r="0.85"/><circle cx="236.7" cy="54.0" r="0.85"/></g><polyline fill="none" stroke="#7434d6" stroke-width="1.15" stroke-linejoin="round" points="31.0,60.8 39.0,61.0 48.1,62.4 51.9,66.1 53.7,69.9 56.0,78.8 58.5,90.0 61.0,100.0 64.0,110.0 68.0,122.0 72.0,134.0 80.0,141.0 88.0,149.0 93.9,155.4 97.0,172.0 99.5,190.0 154.0,82.0 181.5,60.6 209.4,60.8 236.7,60.8"/><g fill="#7434d6"><circle cx="33.6" cy="60.9" r="0.85"/><circle cx="36.4" cy="60.9" r="0.85"/><circle cx="39.2" cy="61.0" r="0.85"/><circle cx="42.0" cy="61.5" r="0.85"/><circle cx="44.8" cy="61.9" r="0.85"/><circle cx="47.6" cy="62.3" r="0.85"/><circle cx="50.4" cy="64.6" r="0.85"/><circle cx="53.2" cy="68.8" r="0.85"/><circle cx="56.0" cy="78.8" r="0.85"/><circle cx="58.8" cy="91.2" r="0.85"/><circle cx="61.6" cy="102.0" r="0.85"/><circle cx="64.4" cy="111.2" r="0.85"/><circle cx="67.2" cy="119.6" r="0.85"/><circle cx="70.0" cy="128.0" r="0.85"/><circle cx="72.8" cy="134.7" r="0.85"/><circle cx="75.6" cy="137.1" r="0.85"/><circle cx="78.4" cy="139.6" r="0.85"/><circle cx="81.2" cy="142.2" r="0.85"/><circle cx="84.0" cy="145.0" r="0.85"/><circle cx="86.8" cy="147.8" r="0.85"/><circle cx="89.6" cy="150.7" r="0.85"/><circle cx="92.4" cy="153.8" r="0.85"/><circle cx="95.2" cy="162.4" r="0.85"/><circle cx="98.0" cy="179.2" r="0.85"/><circle cx="181.5" cy="60.6" r="0.85"/><circle cx="209.4" cy="60.8" r="0.85"/><circle cx="236.7" cy="60.8" r="0.85"/></g><polyline fill="none" stroke="#5ec82a" stroke-width="1.15" stroke-linejoin="round" points="31.0,60.0 39.2,60.5 49.6,62.4 53.4,64.6 56.4,68.4 60.0,74.2 71.9,87.6 77.9,95.0 86.5,103.2 87.6,117.4 90.6,134.6 93.9,152.4 96.1,169.6 99.5,190.0 154.0,86.0 181.5,63.0 209.4,60.0 236.7,60.2"/><g fill="#5ec82a"><circle cx="33.6" cy="60.2" r="0.85"/><circle cx="36.4" cy="60.3" r="0.85"/><circle cx="39.2" cy="60.5" r="0.85"/><circle cx="42.0" cy="61.0" r="0.85"/><circle cx="44.8" cy="61.5" r="0.85"/><circle cx="47.6" cy="62.0" r="0.85"/><circle cx="50.4" cy="62.9" r="0.85"/><circle cx="53.2" cy="64.5" r="0.85"/><circle cx="56.0" cy="67.9" r="0.85"/><circle cx="58.8" cy="72.3" r="0.85"/><circle cx="61.6" cy="76.0" r="0.85"/><circle cx="64.4" cy="79.2" r="0.85"/><circle cx="67.2" cy="82.3" r="0.85"/><circle cx="70.0" cy="85.5" r="0.85"/><circle cx="72.8" cy="88.7" r="0.85"/><circle cx="75.6" cy="92.2" r="0.85"/><circle cx="78.4" cy="95.5" r="0.85"/><circle cx="81.2" cy="98.1" r="0.85"/><circle cx="84.0" cy="100.8" r="0.85"/><circle cx="86.8" cy="107.1" r="0.85"/><circle cx="89.6" cy="128.9" r="0.85"/><circle cx="92.4" cy="144.3" r="0.85"/><circle cx="95.2" cy="162.6" r="0.85"/><circle cx="98.0" cy="181.0" r="0.85"/><circle cx="181.5" cy="63.0" r="0.85"/><circle cx="209.4" cy="60.0" r="0.85"/><circle cx="236.7" cy="60.2" r="0.85"/></g><polyline fill="none" stroke="#5ec82a" stroke-width="1.15" stroke-linejoin="round" points="31.0,63.9 46.7,65.0 52.6,66.5 54.9,68.4 57.9,71.3 63.8,77.3 67.0,83.0 70.0,92.0 73.0,105.0 76.0,120.0 81.2,133.7 86.4,138.2 93.9,152.4 96.1,169.6 99.5,191.0 154.0,90.0 181.5,68.5 209.4,63.5 236.7,63.5"/><g fill="#5ec82a"><circle cx="33.6" cy="64.1" r="0.85"/><circle cx="36.4" cy="64.3" r="0.85"/><circle cx="39.2" cy="64.5" r="0.85"/><circle cx="42.0" cy="64.7" r="0.85"/><circle cx="44.8" cy="64.9" r="0.85"/><circle cx="47.6" cy="65.2" r="0.85"/><circle cx="50.4" cy="65.9" r="0.85"/><circle cx="53.2" cy="67.0" r="0.85"/><circle cx="56.0" cy="69.5" r="0.85"/><circle cx="58.8" cy="72.2" r="0.85"/><circle cx="61.6" cy="75.1" r="0.85"/><circle cx="64.4" cy="78.4" r="0.85"/><circle cx="67.2" cy="83.6" r="0.85"/><circle cx="70.0" cy="92.0" r="0.85"/><circle cx="72.8" cy="104.1" r="0.85"/><circle cx="75.6" cy="118.0" r="0.85"/><circle cx="78.4" cy="126.3" r="0.85"/><circle cx="81.2" cy="133.7" r="0.85"/><circle cx="84.0" cy="136.1" r="0.85"/><circle cx="86.8" cy="139.0" r="0.85"/><circle cx="89.6" cy="144.3" r="0.85"/><circle cx="92.4" cy="149.6" r="0.85"/><circle cx="95.2" cy="162.6" r="0.85"/><circle cx="98.0" cy="181.6" r="0.85"/><circle cx="181.5" cy="68.5" r="0.85"/><circle cx="209.4" cy="63.5" r="0.85"/><circle cx="236.7" cy="63.5" r="0.85"/></g><polyline fill="none" stroke="#50d6a8" stroke-width="1.15" stroke-linejoin="round" points="31.0,65.4 49.6,66.9 55.0,70.0 60.0,76.4 64.5,83.1 69.7,91.3 72.7,104.0 79.4,114.4 80.9,134.6 85.0,160.0 92.0,185.0 99.0,192.0 154.0,86.0 181.5,65.1 209.4,65.1 236.7,65.1"/><g fill="#50d6a8"><circle cx="33.6" cy="65.6" r="0.85"/><circle cx="36.4" cy="65.8" r="0.85"/><circle cx="39.2" cy="66.1" r="0.85"/><circle cx="42.0" cy="66.3" r="0.85"/><circle cx="44.8" cy="66.5" r="0.85"/><circle cx="47.6" cy="66.7" r="0.85"/><circle cx="50.4" cy="67.4" r="0.85"/><circle cx="53.2" cy="69.0" r="0.85"/><circle cx="56.0" cy="71.3" r="0.85"/><circle cx="58.8" cy="74.9" r="0.85"/><circle cx="61.6" cy="78.8" r="0.85"/><circle cx="64.4" cy="83.0" r="0.85"/><circle cx="67.2" cy="87.4" r="0.85"/><circle cx="70.0" cy="92.6" r="0.85"/><circle cx="72.8" cy="104.2" r="0.85"/><circle cx="75.6" cy="108.5" r="0.85"/><circle cx="78.4" cy="112.8" r="0.85"/><circle cx="81.2" cy="136.5" r="0.85"/><circle cx="84.0" cy="153.8" r="0.85"/><circle cx="86.8" cy="166.4" r="0.85"/><circle cx="89.6" cy="176.4" r="0.85"/><circle cx="92.4" cy="185.4" r="0.85"/><circle cx="95.2" cy="188.2" r="0.85"/><circle cx="98.0" cy="191.0" r="0.85"/><circle cx="181.5" cy="65.1" r="0.85"/><circle cx="209.4" cy="65.1" r="0.85"/><circle cx="236.7" cy="65.1" r="0.85"/></g><polyline fill="none" stroke="#7434d6" stroke-width="1.15" stroke-linejoin="round" points="31.0,68.7 39.2,69.5 47.4,71.3 52.6,72.8 56.4,75.8 60.0,78.7 67.5,83.9 72.7,89.9 76.0,95.0 81.6,104.7 85.7,114.4 86.9,117.4 87.6,134.6 88.5,149.0 92.4,154.0 99.1,167.3 106.6,167.7 110.0,162.8 116.0,155.0 154.0,78.5 181.5,69.1 209.4,68.9 236.7,68.9"/><g fill="#7434d6"><circle cx="33.6" cy="69.0" r="0.85"/><circle cx="36.4" cy="69.2" r="0.85"/><circle cx="39.2" cy="69.5" r="0.85"/><circle cx="42.0" cy="70.1" r="0.85"/><circle cx="44.8" cy="70.7" r="0.85"/><circle cx="47.6" cy="71.4" r="0.85"/><circle cx="50.4" cy="72.2" r="0.85"/><circle cx="53.2" cy="73.3" r="0.85"/><circle cx="56.0" cy="75.5" r="0.85"/><circle cx="58.8" cy="77.7" r="0.85"/><circle cx="61.6" cy="79.8" r="0.85"/><circle cx="64.4" cy="81.8" r="0.85"/><circle cx="67.2" cy="83.7" r="0.85"/><circle cx="70.0" cy="86.8" r="0.85"/><circle cx="72.8" cy="90.1" r="0.85"/><circle cx="75.6" cy="94.4" r="0.85"/><circle cx="78.4" cy="99.2" r="0.85"/><circle cx="81.2" cy="104.0" r="0.85"/><circle cx="84.0" cy="110.4" r="0.85"/><circle cx="86.8" cy="117.1" r="0.85"/><circle cx="89.6" cy="150.4" r="0.85"/><circle cx="92.4" cy="154.0" r="0.85"/><circle cx="95.2" cy="159.6" r="0.85"/><circle cx="98.0" cy="165.1" r="0.85"/><circle cx="181.5" cy="69.1" r="0.85"/><circle cx="209.4" cy="68.9" r="0.85"/><circle cx="236.7" cy="68.9" r="0.85"/></g><polyline fill="none" stroke="#a51852" stroke-width="1.15" stroke-linejoin="round" points="31.0,73.7 39.2,74.5 47.4,76.3 52.6,79.0 56.4,81.9 59.3,87.2 63.1,94.6 66.7,102.5 73.4,106.9 79.4,107.7 84.6,113.7 86.5,117.4 87.2,124.9 88.7,144.9 90.9,169.6 92.1,196.5 100.1,193.2 154.0,92.0 181.5,75.2 209.4,73.9 236.7,73.9"/><g fill="#a51852"><circle cx="33.6" cy="74.0" r="0.85"/><circle cx="36.4" cy="74.2" r="0.85"/><circle cx="39.2" cy="74.5" r="0.85"/><circle cx="42.0" cy="75.1" r="0.85"/><circle cx="44.8" cy="75.7" r="0.85"/><circle cx="47.6" cy="76.4" r="0.85"/><circle cx="50.4" cy="77.9" r="0.85"/><circle cx="53.2" cy="79.5" r="0.85"/><circle cx="56.0" cy="81.6" r="0.85"/><circle cx="58.8" cy="86.3" r="0.85"/><circle cx="61.6" cy="91.7" r="0.85"/><circle cx="64.4" cy="97.5" r="0.85"/><circle cx="67.2" cy="102.8" r="0.85"/><circle cx="70.0" cy="104.7" r="0.85"/><circle cx="72.8" cy="106.5" r="0.85"/><circle cx="75.6" cy="107.2" r="0.85"/><circle cx="78.4" cy="107.6" r="0.85"/><circle cx="81.2" cy="109.8" r="0.85"/><circle cx="84.0" cy="113.0" r="0.85"/><circle cx="86.8" cy="120.6" r="0.85"/><circle cx="89.6" cy="155.0" r="0.85"/><circle cx="92.4" cy="196.4" r="0.85"/><circle cx="95.2" cy="195.2" r="0.85"/><circle cx="98.0" cy="194.1" r="0.85"/><circle cx="181.5" cy="75.2" r="0.85"/><circle cx="209.4" cy="73.9" r="0.85"/><circle cx="236.7" cy="73.9" r="0.85"/></g><polyline fill="none" stroke="#a51852" stroke-width="1.15" stroke-linejoin="round" points="31.0,76.0 42.9,77.5 50.4,79.3 55.6,82.7 59.3,88.7 65.3,96.1 70.0,108.0 75.0,122.0 80.0,138.0 86.0,160.0 91.0,185.0 96.0,196.0 100.1,194.8 154.0,97.0 181.5,76.4 209.4,76.0 236.7,76.0"/><g fill="#a51852"><circle cx="33.6" cy="76.3" r="0.85"/><circle cx="36.4" cy="76.7" r="0.85"/><circle cx="39.2" cy="77.0" r="0.85"/><circle cx="42.0" cy="77.4" r="0.85"/><circle cx="44.8" cy="78.0" r="0.85"/><circle cx="47.6" cy="78.6" r="0.85"/><circle cx="50.4" cy="79.3" r="0.85"/><circle cx="53.2" cy="81.1" r="0.85"/><circle cx="56.0" cy="83.3" r="0.85"/><circle cx="58.8" cy="87.9" r="0.85"/><circle cx="61.6" cy="91.5" r="0.85"/><circle cx="64.4" cy="95.0" r="0.85"/><circle cx="67.2" cy="100.9" r="0.85"/><circle cx="70.0" cy="108.0" r="0.85"/><circle cx="72.8" cy="115.8" r="0.85"/><circle cx="75.6" cy="123.9" r="0.85"/><circle cx="78.4" cy="132.9" r="0.85"/><circle cx="81.2" cy="142.4" r="0.85"/><circle cx="84.0" cy="152.7" r="0.85"/><circle cx="86.8" cy="164.0" r="0.85"/><circle cx="89.6" cy="178.0" r="0.85"/><circle cx="92.4" cy="188.1" r="0.85"/><circle cx="95.2" cy="194.2" r="0.85"/><circle cx="98.0" cy="195.4" r="0.85"/><circle cx="181.5" cy="76.4" r="0.85"/><circle cx="209.4" cy="76.0" r="0.85"/><circle cx="236.7" cy="76.0" r="0.85"/></g><polyline fill="none" stroke="#62e2f8" stroke-width="1.15" stroke-linejoin="round" points="31.0,75.2 45.0,77.0 54.1,80.4 57.9,83.4 62.0,90.0 66.0,100.0 70.0,112.0 74.0,125.0 78.0,140.0 84.0,160.0 92.0,185.0 99.0,193.0 154.0,90.0 181.5,78.8 209.4,75.4 236.7,75.4"/><g fill="#62e2f8"><circle cx="33.6" cy="75.5" r="0.85"/><circle cx="36.4" cy="75.9" r="0.85"/><circle cx="39.2" cy="76.3" r="0.85"/><circle cx="42.0" cy="76.6" r="0.85"/><circle cx="44.8" cy="77.0" r="0.85"/><circle cx="47.6" cy="78.0" r="0.85"/><circle cx="50.4" cy="79.0" r="0.85"/><circle cx="53.2" cy="80.1" r="0.85"/><circle cx="56.0" cy="81.9" r="0.85"/><circle cx="58.8" cy="84.8" r="0.85"/><circle cx="61.6" cy="89.4" r="0.85"/><circle cx="64.4" cy="96.0" r="0.85"/><circle cx="67.2" cy="103.6" r="0.85"/><circle cx="70.0" cy="112.0" r="0.85"/><circle cx="72.8" cy="121.1" r="0.85"/><circle cx="75.6" cy="131.0" r="0.85"/><circle cx="78.4" cy="141.3" r="0.85"/><circle cx="81.2" cy="150.7" r="0.85"/><circle cx="84.0" cy="160.0" r="0.85"/><circle cx="86.8" cy="168.7" r="0.85"/><circle cx="89.6" cy="177.5" r="0.85"/><circle cx="92.4" cy="185.5" r="0.85"/><circle cx="95.2" cy="188.7" r="0.85"/><circle cx="98.0" cy="191.9" r="0.85"/><circle cx="181.5" cy="78.8" r="0.85"/><circle cx="209.4" cy="75.4" r="0.85"/><circle cx="236.7" cy="75.4" r="0.85"/></g><polyline fill="none" stroke="#e4532e" stroke-width="1.15" stroke-linejoin="round" points="31.0,76.4 45.0,78.0 55.0,82.0 60.0,87.0 64.0,95.0 68.0,108.0 70.0,118.0 72.0,128.0 75.0,140.0 80.0,155.0 88.0,175.0 96.0,195.0 99.6,193.8 154.0,97.0 181.5,77.0 209.4,76.4 236.7,76.4"/><g fill="#e4532e"><circle cx="33.6" cy="76.7" r="0.85"/><circle cx="36.4" cy="77.0" r="0.85"/><circle cx="39.2" cy="77.3" r="0.85"/><circle cx="42.0" cy="77.7" r="0.85"/><circle cx="44.8" cy="78.0" r="0.85"/><circle cx="47.6" cy="79.0" r="0.85"/><circle cx="50.4" cy="80.2" r="0.85"/><circle cx="53.2" cy="81.3" r="0.85"/><circle cx="56.0" cy="83.0" r="0.85"/><circle cx="58.8" cy="85.8" r="0.85"/><circle cx="61.6" cy="90.2" r="0.85"/><circle cx="64.4" cy="96.3" r="0.85"/><circle cx="67.2" cy="105.4" r="0.85"/><circle cx="70.0" cy="118.0" r="0.85"/><circle cx="72.8" cy="131.2" r="0.85"/><circle cx="75.6" cy="141.8" r="0.85"/><circle cx="78.4" cy="150.2" r="0.85"/><circle cx="81.2" cy="158.0" r="0.85"/><circle cx="84.0" cy="165.0" r="0.85"/><circle cx="86.8" cy="172.0" r="0.85"/><circle cx="89.6" cy="179.0" r="0.85"/><circle cx="92.4" cy="186.0" r="0.85"/><circle cx="95.2" cy="193.0" r="0.85"/><circle cx="98.0" cy="194.3" r="0.85"/><circle cx="181.5" cy="77.0" r="0.85"/><circle cx="209.4" cy="76.4" r="0.85"/><circle cx="236.7" cy="76.4" r="0.85"/></g><polyline fill="none" stroke="#2a78f4" stroke-width="1.15" stroke-linejoin="round" points="31.0,77.5 39.2,78.6 45.2,80.4 48.9,83.4 51.9,87.9 54.5,92.4 57.2,99.0 59.5,106.0 61.5,113.0 63.0,119.0 64.4,125.0 66.0,135.0 68.0,144.0 74.0,152.0 82.0,165.0 90.0,182.0 99.5,191.0 154.0,93.0 181.5,77.8 209.4,77.3 236.7,77.3"/><g fill="#2a78f4"><circle cx="33.6" cy="77.8" r="0.85"/><circle cx="36.4" cy="78.2" r="0.85"/><circle cx="39.2" cy="78.6" r="0.85"/><circle cx="42.0" cy="79.4" r="0.85"/><circle cx="44.8" cy="80.3" r="0.85"/><circle cx="47.6" cy="82.3" r="0.85"/><circle cx="50.4" cy="85.6" r="0.85"/><circle cx="53.2" cy="90.1" r="0.85"/><circle cx="56.0" cy="96.1" r="0.85"/><circle cx="58.8" cy="103.9" r="0.85"/><circle cx="61.6" cy="113.4" r="0.85"/><circle cx="64.4" cy="125.0" r="0.85"/><circle cx="67.2" cy="140.4" r="0.85"/><circle cx="70.0" cy="146.7" r="0.85"/><circle cx="72.8" cy="150.4" r="0.85"/><circle cx="75.6" cy="154.6" r="0.85"/><circle cx="78.4" cy="159.1" r="0.85"/><circle cx="81.2" cy="163.7" r="0.85"/><circle cx="84.0" cy="169.2" r="0.85"/><circle cx="86.8" cy="175.2" r="0.85"/><circle cx="89.6" cy="181.1" r="0.85"/><circle cx="92.4" cy="184.3" r="0.85"/><circle cx="95.2" cy="186.9" r="0.85"/><circle cx="98.0" cy="189.6" r="0.85"/><circle cx="181.5" cy="77.8" r="0.85"/><circle cx="209.4" cy="77.3" r="0.85"/><circle cx="236.7" cy="77.3" r="0.85"/></g><polyline fill="none" stroke="#2a78f4" stroke-width="1.15" stroke-linejoin="round" points="31.0,78.3 39.2,79.6 45.2,81.6 48.9,84.8 51.9,89.5 54.9,94.0 57.6,100.5 60.0,107.5 62.0,114.5 63.5,120.5 65.0,126.5 67.0,136.0 69.5,145.5 76.0,154.0 84.0,168.0 92.0,184.0 99.5,192.0 154.0,95.0 181.5,79.5 209.4,78.0 236.7,78.0"/><g fill="#2a78f4"><circle cx="33.6" cy="78.7" r="0.85"/><circle cx="36.4" cy="79.2" r="0.85"/><circle cx="39.2" cy="79.6" r="0.85"/><circle cx="42.0" cy="80.5" r="0.85"/><circle cx="44.8" cy="81.5" r="0.85"/><circle cx="47.6" cy="83.7" r="0.85"/><circle cx="50.4" cy="87.1" r="0.85"/><circle cx="53.2" cy="91.4" r="0.85"/><circle cx="56.0" cy="96.6" r="0.85"/><circle cx="58.8" cy="104.0" r="0.85"/><circle cx="61.6" cy="113.1" r="0.85"/><circle cx="64.4" cy="124.1" r="0.85"/><circle cx="67.2" cy="136.8" r="0.85"/><circle cx="70.0" cy="146.2" r="0.85"/><circle cx="72.8" cy="149.8" r="0.85"/><circle cx="75.6" cy="153.5" r="0.85"/><circle cx="78.4" cy="158.2" r="0.85"/><circle cx="81.2" cy="163.1" r="0.85"/><circle cx="84.0" cy="168.0" r="0.85"/><circle cx="86.8" cy="173.6" r="0.85"/><circle cx="89.6" cy="179.2" r="0.85"/><circle cx="92.4" cy="184.4" r="0.85"/><circle cx="95.2" cy="187.4" r="0.85"/><circle cx="98.0" cy="190.4" r="0.85"/><circle cx="181.5" cy="79.5" r="0.85"/><circle cx="209.4" cy="78.0" r="0.85"/><circle cx="236.7" cy="78.0" r="0.85"/></g><polyline fill="none" stroke="#2a78f4" stroke-width="1.15" stroke-linejoin="round" points="31.0,80.4 39.2,81.0 45.2,83.0 49.0,86.5 52.0,90.0 54.0,92.5 55.2,100.0 56.2,107.4 59.2,125.0 61.5,135.0 64.0,142.0 70.0,150.0 78.0,160.0 86.0,172.0 93.0,186.0 99.0,194.0 154.0,96.0 181.5,80.5 209.4,80.6 236.7,80.6"/><g fill="#2a78f4"><circle cx="33.6" cy="80.6" r="0.85"/><circle cx="36.4" cy="80.8" r="0.85"/><circle cx="39.2" cy="81.0" r="0.85"/><circle cx="42.0" cy="81.9" r="0.85"/><circle cx="44.8" cy="82.9" r="0.85"/><circle cx="47.6" cy="85.2" r="0.85"/><circle cx="50.4" cy="88.1" r="0.85"/><circle cx="53.2" cy="91.5" r="0.85"/><circle cx="56.0" cy="105.9" r="0.85"/><circle cx="58.8" cy="122.7" r="0.85"/><circle cx="61.6" cy="135.3" r="0.85"/><circle cx="64.4" cy="142.5" r="0.85"/><circle cx="67.2" cy="146.3" r="0.85"/><circle cx="70.0" cy="150.0" r="0.85"/><circle cx="72.8" cy="153.5" r="0.85"/><circle cx="75.6" cy="157.0" r="0.85"/><circle cx="78.4" cy="160.6" r="0.85"/><circle cx="81.2" cy="164.8" r="0.85"/><circle cx="84.0" cy="169.0" r="0.85"/><circle cx="86.8" cy="173.6" r="0.85"/><circle cx="89.6" cy="179.2" r="0.85"/><circle cx="92.4" cy="184.8" r="0.85"/><circle cx="95.2" cy="188.9" r="0.85"/><circle cx="98.0" cy="192.7" r="0.85"/><circle cx="181.5" cy="80.5" r="0.85"/><circle cx="209.4" cy="80.6" r="0.85"/><circle cx="236.7" cy="80.6" r="0.85"/></g><polyline fill="none" stroke="#5ec82a" stroke-width="1.15" stroke-linejoin="round" points="31.0,85.7 39.2,86.0 48.1,86.8 51.9,87.9 54.1,90.1 56.4,94.6 59.3,101.3 62.0,110.0 65.0,120.0 67.2,135.0 75.4,155.9 82.1,174.6 90.0,188.0 98.0,193.0 100.1,191.8 154.0,94.0 181.5,85.5 209.4,85.3 236.7,85.3"/><g fill="#5ec82a"><circle cx="33.6" cy="85.8" r="0.85"/><circle cx="36.4" cy="85.9" r="0.85"/><circle cx="39.2" cy="86.0" r="0.85"/><circle cx="42.0" cy="86.3" r="0.85"/><circle cx="44.8" cy="86.5" r="0.85"/><circle cx="47.6" cy="86.8" r="0.85"/><circle cx="50.4" cy="87.5" r="0.85"/><circle cx="53.2" cy="89.2" r="0.85"/><circle cx="56.0" cy="93.8" r="0.85"/><circle cx="58.8" cy="100.1" r="0.85"/><circle cx="61.6" cy="108.7" r="0.85"/><circle cx="64.4" cy="118.0" r="0.85"/><circle cx="67.2" cy="135.0" r="0.85"/><circle cx="70.0" cy="142.1" r="0.85"/><circle cx="72.8" cy="149.3" r="0.85"/><circle cx="75.6" cy="156.5" r="0.85"/><circle cx="78.4" cy="164.3" r="0.85"/><circle cx="81.2" cy="172.1" r="0.85"/><circle cx="84.0" cy="177.8" r="0.85"/><circle cx="86.8" cy="182.6" r="0.85"/><circle cx="89.6" cy="187.3" r="0.85"/><circle cx="92.4" cy="189.5" r="0.85"/><circle cx="95.2" cy="191.2" r="0.85"/><circle cx="98.0" cy="193.0" r="0.85"/><circle cx="181.5" cy="85.5" r="0.85"/><circle cx="209.4" cy="85.3" r="0.85"/><circle cx="236.7" cy="85.3" r="0.85"/></g><polyline fill="none" stroke="#ecae32" stroke-width="1.15" stroke-linejoin="round" points="31.0,87.0 42.0,88.5 46.7,90.1 52.0,94.0 57.0,98.0 62.0,100.5 65.2,101.7 67.5,112.9 76.4,126.3 80.1,134.6 86.0,155.0 92.0,180.0 97.0,195.0 100.6,193.8 154.0,100.0 181.5,86.6 209.4,86.9 236.7,86.9"/><g fill="#ecae32"><circle cx="33.6" cy="87.4" r="0.85"/><circle cx="36.4" cy="87.7" r="0.85"/><circle cx="39.2" cy="88.1" r="0.85"/><circle cx="42.0" cy="88.5" r="0.85"/><circle cx="44.8" cy="89.5" r="0.85"/><circle cx="47.6" cy="90.8" r="0.85"/><circle cx="50.4" cy="92.8" r="0.85"/><circle cx="53.2" cy="95.0" r="0.85"/><circle cx="56.0" cy="97.2" r="0.85"/><circle cx="58.8" cy="98.9" r="0.85"/><circle cx="61.6" cy="100.3" r="0.85"/><circle cx="64.4" cy="101.4" r="0.85"/><circle cx="67.2" cy="111.4" r="0.85"/><circle cx="70.0" cy="116.7" r="0.85"/><circle cx="72.8" cy="120.9" r="0.85"/><circle cx="75.6" cy="125.1" r="0.85"/><circle cx="78.4" cy="130.8" r="0.85"/><circle cx="81.2" cy="138.4" r="0.85"/><circle cx="84.0" cy="148.1" r="0.85"/><circle cx="86.8" cy="158.3" r="0.85"/><circle cx="89.6" cy="170.0" r="0.85"/><circle cx="92.4" cy="181.2" r="0.85"/><circle cx="95.2" cy="189.6" r="0.85"/><circle cx="98.0" cy="194.7" r="0.85"/><circle cx="181.5" cy="86.6" r="0.85"/><circle cx="209.4" cy="86.9" r="0.85"/><circle cx="236.7" cy="86.9" r="0.85"/></g><polyline fill="none" stroke="#ef6f16" stroke-width="1.15" stroke-linejoin="round" points="31.0,86.4 35.5,87.2 41.4,88.7 43.7,91.6 45.9,96.1 48.0,98.5 52.0,104.0 55.0,110.0 58.0,118.0 61.0,126.0 64.0,134.0 66.0,142.0 69.0,150.0 75.0,160.0 84.0,177.0 93.0,192.0 99.6,190.8 154.0,98.0 181.5,86.3 209.4,86.4 236.7,86.4"/><g fill="#ef6f16"><circle cx="33.6" cy="86.9" r="0.85"/><circle cx="36.4" cy="87.4" r="0.85"/><circle cx="39.2" cy="88.1" r="0.85"/><circle cx="42.0" cy="89.5" r="0.85"/><circle cx="44.8" cy="93.8" r="0.85"/><circle cx="47.6" cy="98.0" r="0.85"/><circle cx="50.4" cy="101.8" r="0.85"/><circle cx="53.2" cy="106.4" r="0.85"/><circle cx="56.0" cy="112.7" r="0.85"/><circle cx="58.8" cy="120.1" r="0.85"/><circle cx="61.6" cy="127.6" r="0.85"/><circle cx="64.4" cy="135.6" r="0.85"/><circle cx="67.2" cy="145.2" r="0.85"/><circle cx="70.0" cy="151.7" r="0.85"/><circle cx="72.8" cy="156.3" r="0.85"/><circle cx="75.6" cy="161.1" r="0.85"/><circle cx="78.4" cy="166.4" r="0.85"/><circle cx="81.2" cy="171.7" r="0.85"/><circle cx="84.0" cy="177.0" r="0.85"/><circle cx="86.8" cy="181.7" r="0.85"/><circle cx="89.6" cy="186.3" r="0.85"/><circle cx="92.4" cy="191.0" r="0.85"/><circle cx="95.2" cy="191.6" r="0.85"/><circle cx="98.0" cy="191.1" r="0.85"/><circle cx="181.5" cy="86.3" r="0.85"/><circle cx="209.4" cy="86.4" r="0.85"/><circle cx="236.7" cy="86.4" r="0.85"/></g><polyline fill="none" stroke="#ef6f16" stroke-width="1.15" stroke-linejoin="round" points="31.0,87.5 37.7,87.9 46.7,90.1 51.1,92.0 54.7,96.2 57.9,102.8 61.4,109.6 63.5,116.0 66.0,125.0 69.0,135.0 71.0,145.0 75.0,157.0 82.0,172.0 90.0,188.0 95.0,196.0 100.1,194.8 154.0,97.0 181.5,86.8 209.4,87.6 236.7,87.6"/><g fill="#ef6f16"><circle cx="33.6" cy="87.7" r="0.85"/><circle cx="36.4" cy="87.8" r="0.85"/><circle cx="39.2" cy="88.3" r="0.85"/><circle cx="42.0" cy="89.0" r="0.85"/><circle cx="44.8" cy="89.6" r="0.85"/><circle cx="47.6" cy="90.5" r="0.85"/><circle cx="50.4" cy="91.7" r="0.85"/><circle cx="53.2" cy="94.4" r="0.85"/><circle cx="56.0" cy="98.9" r="0.85"/><circle cx="58.8" cy="104.5" r="0.85"/><circle cx="61.6" cy="110.2" r="0.85"/><circle cx="64.4" cy="119.2" r="0.85"/><circle cx="67.2" cy="129.0" r="0.85"/><circle cx="70.0" cy="140.0" r="0.85"/><circle cx="72.8" cy="150.4" r="0.85"/><circle cx="75.6" cy="158.3" r="0.85"/><circle cx="78.4" cy="164.3" r="0.85"/><circle cx="81.2" cy="170.3" r="0.85"/><circle cx="84.0" cy="176.0" r="0.85"/><circle cx="86.8" cy="181.6" r="0.85"/><circle cx="89.6" cy="187.2" r="0.85"/><circle cx="92.4" cy="191.8" r="0.85"/><circle cx="95.2" cy="196.0" r="0.85"/><circle cx="98.0" cy="195.3" r="0.85"/><circle cx="181.5" cy="86.8" r="0.85"/><circle cx="209.4" cy="87.6" r="0.85"/><circle cx="236.7" cy="87.6" r="0.85"/></g><polyline fill="none" stroke="#2a78f4" stroke-width="1.15" stroke-linejoin="round" points="31.0,88.3 32.5,89.8 35.5,92.4 39.2,93.9 46.7,95.4 51.9,96.9 54.1,99.9 55.6,104.3 58.0,112.0 62.0,122.0 67.0,133.0 73.0,145.0 80.0,158.0 88.0,175.0 98.0,194.0 100.6,192.8 154.0,99.0 181.5,87.9 209.4,88.8 236.7,88.8"/><g fill="#2a78f4"><circle cx="33.6" cy="90.8" r="0.85"/><circle cx="36.4" cy="92.8" r="0.85"/><circle cx="39.2" cy="93.9" r="0.85"/><circle cx="42.0" cy="94.5" r="0.85"/><circle cx="44.8" cy="95.0" r="0.85"/><circle cx="47.6" cy="95.7" r="0.85"/><circle cx="50.4" cy="96.5" r="0.85"/><circle cx="53.2" cy="98.7" r="0.85"/><circle cx="56.0" cy="105.6" r="0.85"/><circle cx="58.8" cy="114.0" r="0.85"/><circle cx="61.6" cy="121.0" r="0.85"/><circle cx="64.4" cy="127.3" r="0.85"/><circle cx="67.2" cy="133.4" r="0.85"/><circle cx="70.0" cy="139.0" r="0.85"/><circle cx="72.8" cy="144.6" r="0.85"/><circle cx="75.6" cy="149.8" r="0.85"/><circle cx="78.4" cy="155.0" r="0.85"/><circle cx="81.2" cy="160.5" r="0.85"/><circle cx="84.0" cy="166.5" r="0.85"/><circle cx="86.8" cy="172.4" r="0.85"/><circle cx="89.6" cy="178.0" r="0.85"/><circle cx="92.4" cy="183.4" r="0.85"/><circle cx="95.2" cy="188.7" r="0.85"/><circle cx="98.0" cy="194.0" r="0.85"/><circle cx="181.5" cy="87.9" r="0.85"/><circle cx="209.4" cy="88.8" r="0.85"/><circle cx="236.7" cy="88.8" r="0.85"/></g><polyline fill="none" stroke="#7434d6" stroke-width="1.15" stroke-linejoin="round" points="31.0,94.3 39.2,94.6 46.7,95.7 52.0,99.0 56.0,105.0 60.0,115.0 62.5,125.0 64.2,135.0 67.2,141.0 70.1,149.9 72.4,161.5 79.9,166.3 82.8,168.6 90.0,185.0 96.0,195.0 99.6,193.8 154.0,103.0 181.5,94.5 209.4,94.2 236.7,94.2"/><g fill="#7434d6"><circle cx="33.6" cy="94.4" r="0.85"/><circle cx="36.4" cy="94.5" r="0.85"/><circle cx="39.2" cy="94.6" r="0.85"/><circle cx="42.0" cy="95.0" r="0.85"/><circle cx="44.8" cy="95.4" r="0.85"/><circle cx="47.6" cy="96.3" r="0.85"/><circle cx="50.4" cy="98.0" r="0.85"/><circle cx="53.2" cy="100.8" r="0.85"/><circle cx="56.0" cy="105.0" r="0.85"/><circle cx="58.8" cy="112.0" r="0.85"/><circle cx="61.6" cy="121.4" r="0.85"/><circle cx="64.4" cy="135.4" r="0.85"/><circle cx="67.2" cy="141.0" r="0.85"/><circle cx="70.0" cy="149.6" r="0.85"/><circle cx="72.8" cy="161.8" r="0.85"/><circle cx="75.6" cy="163.5" r="0.85"/><circle cx="78.4" cy="165.3" r="0.85"/><circle cx="81.2" cy="167.3" r="0.85"/><circle cx="84.0" cy="171.3" r="0.85"/><circle cx="86.8" cy="177.7" r="0.85"/><circle cx="89.6" cy="184.1" r="0.85"/><circle cx="92.4" cy="189.0" r="0.85"/><circle cx="95.2" cy="193.7" r="0.85"/><circle cx="98.0" cy="194.3" r="0.85"/><circle cx="181.5" cy="94.5" r="0.85"/><circle cx="209.4" cy="94.2" r="0.85"/><circle cx="236.7" cy="94.2" r="0.85"/></g><polyline fill="none" stroke="#62e2f8" stroke-width="1.15" stroke-linejoin="round" points="31.0,96.1 42.9,96.9 48.9,98.4 51.9,101.3 55.0,107.0 58.0,115.0 62.0,125.0 67.0,135.0 72.0,145.0 80.0,160.0 88.0,178.0 98.0,193.0 100.1,191.8 154.0,101.0 181.5,96.4 209.4,96.0 236.7,96.0"/><g fill="#62e2f8"><circle cx="33.6" cy="96.3" r="0.85"/><circle cx="36.4" cy="96.5" r="0.85"/><circle cx="39.2" cy="96.7" r="0.85"/><circle cx="42.0" cy="96.8" r="0.85"/><circle cx="44.8" cy="97.4" r="0.85"/><circle cx="47.6" cy="98.1" r="0.85"/><circle cx="50.4" cy="99.8" r="0.85"/><circle cx="53.2" cy="103.7" r="0.85"/><circle cx="56.0" cy="109.7" r="0.85"/><circle cx="58.8" cy="117.0" r="0.85"/><circle cx="61.6" cy="124.0" r="0.85"/><circle cx="64.4" cy="129.8" r="0.85"/><circle cx="67.2" cy="135.4" r="0.85"/><circle cx="70.0" cy="141.0" r="0.85"/><circle cx="72.8" cy="146.5" r="0.85"/><circle cx="75.6" cy="151.7" r="0.85"/><circle cx="78.4" cy="157.0" r="0.85"/><circle cx="81.2" cy="162.7" r="0.85"/><circle cx="84.0" cy="169.0" r="0.85"/><circle cx="86.8" cy="175.3" r="0.85"/><circle cx="89.6" cy="180.4" r="0.85"/><circle cx="92.4" cy="184.6" r="0.85"/><circle cx="95.2" cy="188.8" r="0.85"/><circle cx="98.0" cy="193.0" r="0.85"/><circle cx="181.5" cy="96.4" r="0.85"/><circle cx="209.4" cy="96.0" r="0.85"/><circle cx="236.7" cy="96.0" r="0.85"/></g><polyline fill="none" stroke="#e4532e" stroke-width="1.15" stroke-linejoin="round" points="31.0,97.6 39.2,98.4 47.4,100.6 49.6,103.6 53.0,110.0 57.0,120.0 61.2,135.0 63.4,144.0 64.9,157.4 65.7,161.1 72.4,164.9 80.0,168.0 88.0,180.0 95.0,196.0 100.6,194.8 154.0,106.0 181.5,98.2 209.4,97.3 236.7,97.3"/><g fill="#e4532e"><circle cx="33.6" cy="97.9" r="0.85"/><circle cx="36.4" cy="98.1" r="0.85"/><circle cx="39.2" cy="98.4" r="0.85"/><circle cx="42.0" cy="99.2" r="0.85"/><circle cx="44.8" cy="99.9" r="0.85"/><circle cx="47.6" cy="100.9" r="0.85"/><circle cx="50.4" cy="105.1" r="0.85"/><circle cx="53.2" cy="110.5" r="0.85"/><circle cx="56.0" cy="117.5" r="0.85"/><circle cx="58.8" cy="126.4" r="0.85"/><circle cx="61.6" cy="136.6" r="0.85"/><circle cx="64.4" cy="152.9" r="0.85"/><circle cx="67.2" cy="162.0" r="0.85"/><circle cx="70.0" cy="163.5" r="0.85"/><circle cx="72.8" cy="165.1" r="0.85"/><circle cx="75.6" cy="166.2" r="0.85"/><circle cx="78.4" cy="167.3" r="0.85"/><circle cx="81.2" cy="169.8" r="0.85"/><circle cx="84.0" cy="174.0" r="0.85"/><circle cx="86.8" cy="178.2" r="0.85"/><circle cx="89.6" cy="183.7" r="0.85"/><circle cx="92.4" cy="190.1" r="0.85"/><circle cx="95.2" cy="196.0" r="0.85"/><circle cx="98.0" cy="195.4" r="0.85"/><circle cx="181.5" cy="98.2" r="0.85"/><circle cx="209.4" cy="97.3" r="0.85"/><circle cx="236.7" cy="97.3" r="0.85"/></g><polyline fill="none" stroke="#7434d6" stroke-width="1.15" stroke-linejoin="round" points="31.0,101.0 39.2,101.3 46.7,102.8 51.1,105.1 55.0,110.0 58.0,118.0 62.0,128.0 66.0,138.0 70.9,148.4 79.1,152.9 86.0,165.0 92.0,185.0 96.0,193.0 99.6,191.8 154.0,109.4 181.5,101.2 209.4,101.2 236.7,101.2"/><g fill="#7434d6"><circle cx="33.6" cy="101.1" r="0.85"/><circle cx="36.4" cy="101.2" r="0.85"/><circle cx="39.2" cy="101.3" r="0.85"/><circle cx="42.0" cy="101.9" r="0.85"/><circle cx="44.8" cy="102.4" r="0.85"/><circle cx="47.6" cy="103.3" r="0.85"/><circle cx="50.4" cy="104.7" r="0.85"/><circle cx="53.2" cy="107.7" r="0.85"/><circle cx="56.0" cy="112.7" r="0.85"/><circle cx="58.8" cy="120.0" r="0.85"/><circle cx="61.6" cy="127.0" r="0.85"/><circle cx="64.4" cy="134.0" r="0.85"/><circle cx="67.2" cy="140.5" r="0.85"/><circle cx="70.0" cy="146.5" r="0.85"/><circle cx="72.8" cy="149.4" r="0.85"/><circle cx="75.6" cy="151.0" r="0.85"/><circle cx="78.4" cy="152.5" r="0.85"/><circle cx="81.2" cy="156.6" r="0.85"/><circle cx="84.0" cy="161.5" r="0.85"/><circle cx="86.8" cy="167.7" r="0.85"/><circle cx="89.6" cy="177.0" r="0.85"/><circle cx="92.4" cy="185.8" r="0.85"/><circle cx="95.2" cy="191.4" r="0.85"/><circle cx="98.0" cy="192.3" r="0.85"/><circle cx="181.5" cy="101.2" r="0.85"/><circle cx="209.4" cy="101.2" r="0.85"/><circle cx="236.7" cy="101.2" r="0.85"/></g><polyline fill="none" stroke="#ecae32" stroke-width="1.15" stroke-linejoin="round" points="31.0,103.6 39.2,104.3 42.2,105.5 44.4,113.2 47.0,115.1 57.9,119.9 66.8,126.6 72.0,135.0 78.0,148.0 85.0,165.0 92.0,185.0 99.0,194.0 154.0,110.0 181.5,103.6 209.4,103.5 236.7,103.5"/><g fill="#ecae32"><circle cx="33.6" cy="103.8" r="0.85"/><circle cx="36.4" cy="104.1" r="0.85"/><circle cx="39.2" cy="104.3" r="0.85"/><circle cx="42.0" cy="105.4" r="0.85"/><circle cx="44.8" cy="113.5" r="0.85"/><circle cx="47.6" cy="115.4" r="0.85"/><circle cx="50.4" cy="116.6" r="0.85"/><circle cx="53.2" cy="117.8" r="0.85"/><circle cx="56.0" cy="119.1" r="0.85"/><circle cx="58.8" cy="120.6" r="0.85"/><circle cx="61.6" cy="122.7" r="0.85"/><circle cx="64.4" cy="124.8" r="0.85"/><circle cx="67.2" cy="127.2" r="0.85"/><circle cx="70.0" cy="131.8" r="0.85"/><circle cx="72.8" cy="136.7" r="0.85"/><circle cx="75.6" cy="142.8" r="0.85"/><circle cx="78.4" cy="149.0" r="0.85"/><circle cx="81.2" cy="155.8" r="0.85"/><circle cx="84.0" cy="162.6" r="0.85"/><circle cx="86.8" cy="170.1" r="0.85"/><circle cx="89.6" cy="178.1" r="0.85"/><circle cx="92.4" cy="185.5" r="0.85"/><circle cx="95.2" cy="189.1" r="0.85"/><circle cx="98.0" cy="192.7" r="0.85"/><circle cx="181.5" cy="103.6" r="0.85"/><circle cx="209.4" cy="103.5" r="0.85"/><circle cx="236.7" cy="103.5" r="0.85"/></g><polyline fill="none" stroke="#ecae32" stroke-width="1.15" stroke-linejoin="round" points="31.0,104.7 39.2,105.0 42.9,107.2 48.1,108.0 50.4,119.9 52.6,125.9 55.6,130.4 57.1,136.3 58.2,146.2 64.9,161.1 72.4,164.9 79.9,168.6 86.0,180.0 92.7,197.4 100.6,196.2 154.0,113.0 181.5,104.0 209.4,104.0 236.7,104.0"/><g fill="#ecae32"><circle cx="33.6" cy="104.8" r="0.85"/><circle cx="36.4" cy="104.9" r="0.85"/><circle cx="39.2" cy="105.0" r="0.85"/><circle cx="42.0" cy="106.7" r="0.85"/><circle cx="44.8" cy="107.5" r="0.85"/><circle cx="47.6" cy="107.9" r="0.85"/><circle cx="50.4" cy="119.9" r="0.85"/><circle cx="53.2" cy="126.8" r="0.85"/><circle cx="56.0" cy="132.0" r="0.85"/><circle cx="58.8" cy="147.5" r="0.85"/><circle cx="61.6" cy="153.8" r="0.85"/><circle cx="64.4" cy="160.0" r="0.85"/><circle cx="67.2" cy="162.3" r="0.85"/><circle cx="70.0" cy="163.7" r="0.85"/><circle cx="72.8" cy="165.1" r="0.85"/><circle cx="75.6" cy="166.5" r="0.85"/><circle cx="78.4" cy="167.9" r="0.85"/><circle cx="81.2" cy="171.0" r="0.85"/><circle cx="84.0" cy="176.3" r="0.85"/><circle cx="86.8" cy="182.1" r="0.85"/><circle cx="89.6" cy="189.3" r="0.85"/><circle cx="92.4" cy="196.6" r="0.85"/><circle cx="95.2" cy="197.0" r="0.85"/><circle cx="98.0" cy="196.6" r="0.85"/><circle cx="181.5" cy="104.0" r="0.85"/><circle cx="209.4" cy="104.0" r="0.85"/><circle cx="236.7" cy="104.0" r="0.85"/></g><polyline fill="none" stroke="#a51852" stroke-width="1.15" stroke-linejoin="round" points="31.0,106.5 37.7,106.9 42.9,108.0 45.9,109.5 48.1,112.5 50.4,116.2 52.6,123.7 54.9,130.4 57.9,135.6 61.6,139.3 65.3,143.8 70.9,149.9 78.4,156.6 81.3,164.9 82.8,174.6 85.4,187.8 92.1,196.5 100.1,193.2 154.0,109.4 181.5,106.5 209.4,106.5 236.7,106.5"/><g fill="#a51852"><circle cx="33.6" cy="106.7" r="0.85"/><circle cx="36.4" cy="106.8" r="0.85"/><circle cx="39.2" cy="107.2" r="0.85"/><circle cx="42.0" cy="107.8" r="0.85"/><circle cx="44.8" cy="108.9" r="0.85"/><circle cx="47.6" cy="111.8" r="0.85"/><circle cx="50.4" cy="116.2" r="0.85"/><circle cx="53.2" cy="125.4" r="0.85"/><circle cx="56.0" cy="132.3" r="0.85"/><circle cx="58.8" cy="136.5" r="0.85"/><circle cx="61.6" cy="139.3" r="0.85"/><circle cx="64.4" cy="142.7" r="0.85"/><circle cx="67.2" cy="145.9" r="0.85"/><circle cx="70.0" cy="148.9" r="0.85"/><circle cx="72.8" cy="151.6" r="0.85"/><circle cx="75.6" cy="154.1" r="0.85"/><circle cx="78.4" cy="156.6" r="0.85"/><circle cx="81.2" cy="164.6" r="0.85"/><circle cx="84.0" cy="180.7" r="0.85"/><circle cx="86.8" cy="189.6" r="0.85"/><circle cx="89.6" cy="193.3" r="0.85"/><circle cx="92.4" cy="196.4" r="0.85"/><circle cx="95.2" cy="195.2" r="0.85"/><circle cx="98.0" cy="194.1" r="0.85"/><circle cx="181.5" cy="106.5" r="0.85"/><circle cx="209.4" cy="106.5" r="0.85"/><circle cx="236.7" cy="106.5" r="0.85"/></g><polyline fill="none" stroke="#a51852" stroke-width="1.15" stroke-linejoin="round" points="31.0,110.2 34.7,112.8 37.0,116.9 39.2,122.2 41.4,130.4 47.4,130.7 53.4,132.2 56.4,134.5 59.3,137.8 63.1,140.8 66.8,143.8 72.0,150.0 79.0,158.0 84.0,168.0 90.0,185.0 95.0,196.0 100.1,194.8 126.0,148.5 155.0,120.6 181.5,110.3 209.4,110.3 236.7,110.3"/><g fill="#a51852"><circle cx="33.6" cy="112.0" r="0.85"/><circle cx="36.4" cy="115.8" r="0.85"/><circle cx="39.2" cy="122.2" r="0.85"/><circle cx="42.0" cy="130.4" r="0.85"/><circle cx="44.8" cy="130.6" r="0.85"/><circle cx="47.6" cy="130.8" r="0.85"/><circle cx="50.4" cy="131.4" r="0.85"/><circle cx="53.2" cy="132.1" r="0.85"/><circle cx="56.0" cy="134.2" r="0.85"/><circle cx="58.8" cy="137.2" r="0.85"/><circle cx="61.6" cy="139.6" r="0.85"/><circle cx="64.4" cy="141.9" r="0.85"/><circle cx="67.2" cy="144.3" r="0.85"/><circle cx="70.0" cy="147.6" r="0.85"/><circle cx="72.8" cy="150.9" r="0.85"/><circle cx="75.6" cy="154.1" r="0.85"/><circle cx="78.4" cy="157.3" r="0.85"/><circle cx="81.2" cy="162.4" r="0.85"/><circle cx="84.0" cy="168.0" r="0.85"/><circle cx="86.8" cy="175.9" r="0.85"/><circle cx="89.6" cy="183.9" r="0.85"/><circle cx="92.4" cy="190.3" r="0.85"/><circle cx="95.2" cy="196.0" r="0.85"/><circle cx="98.0" cy="195.3" r="0.85"/><circle cx="181.5" cy="110.3" r="0.85"/><circle cx="209.4" cy="110.3" r="0.85"/><circle cx="236.7" cy="110.3" r="0.85"/></g><circle cx="97.2" cy="219.5" r="2.95" fill="#44ee22" stroke="#ee4422" stroke-width="1.1"/></svg></body></html>
